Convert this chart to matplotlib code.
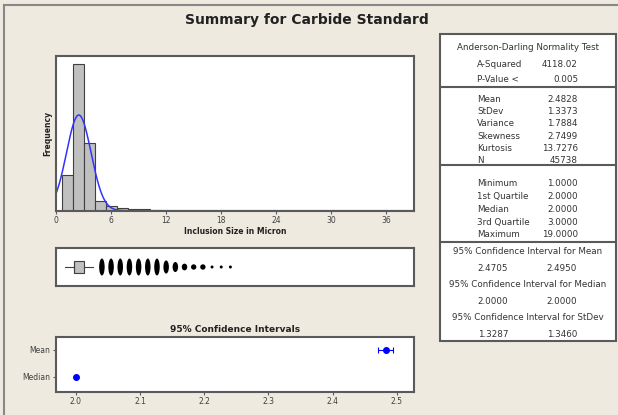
import matplotlib.pyplot as plt
import numpy as np
from matplotlib.patches import Ellipse
from matplotlib.lines import Line2D

W, H = 618, 415

# inclusion sizes (micron) and how often each was seen
size_values = np.arange(1, 20)
size_counts = [6110, 25070, 10300, 1340, 1620, 770, 430, 230, 130, 90,
               60, 20, 8, 3, 2, 2, 1, 1, 1]
bin_width = 1.2
x_ticks = [0, 6, 12, 18, 24, 30, 36]

# summary statistics
mean, stdev, n_obs = 2.4828, 1.3373, 45738
minimum, q1, median, q3, maximum = 1.0, 2.0, 2.0, 3.0, 19.0

# confidence intervals panel
ci_labels = ["Mean", "Median"]
ci_centers = [2.4828, 2.0]
ci_low = [2.4705, 2.0]
ci_high = [2.4950, 2.0]
ci_ticks = [2.0, 2.1, 2.2, 2.3, 2.4, 2.5]

# table text
ad_rows = [("A-Squared", "4118.02"), ("P-Value <", "0.005")]
moment_rows = [("Mean", "2.4828"), ("StDev", "1.3373"), ("Variance", "1.7884"),
               ("Skewness", "2.7499"), ("Kurtosis", "13.7276"), ("N", "45738")]
quant_rows = [("Minimum", "1.0000"), ("1st Quartile", "2.0000"), ("Median", "2.0000"),
              ("3rd Quartile", "3.0000"), ("Maximum", "19.0000")]
ci_rows = [("Mean", "2.4705", "2.4950"), ("Median", "2.0000", "2.0000"),
           ("StDev", "1.3287", "1.3460")]

bg = "#EEEAE0"
spine_col = "#5a5a5a"
txt_col = "#333333"
plt.rcParams['font.family'] = ['DejaVu Sans']


def fx(x):
    return x / W


def fy(y):
    return 1 - y / H


def make_axes(left, top, right, bottom):
    a = fig.add_axes([fx(left), fy(bottom), (right - left) / W, (bottom - top) / H])
    for s in a.spines.values():
        s.set_color(spine_col)
        s.set_linewidth(1.5)
    a.tick_params(labelsize=5.5, colors=spine_col, labelcolor="#404040", length=2.5, width=0.8, pad=1.5)
    return a


fig = plt.figure(figsize=(W / 100, H / 100), dpi=100, facecolor=bg)

# outer frame (top and left only)
fig.add_artist(Line2D([fx(4), 1], [fy(5), fy(5)], color="#888888", lw=1.5))
fig.add_artist(Line2D([fx(4), fx(4)], [fy(5), 0], color="#888888", lw=1.5))

fig.text(fx(307), fy(20), "Summary for Carbide Standard", ha="center", va="center",
         fontsize=10, fontweight="bold", color="#222222")

# %% histogram
ax = make_axes(56, 55.7, 414, 210.7)
edges = np.round(0.6 + bin_width * np.arange(17), 1)
ax.hist(size_values, bins=edges, weights=size_counts, facecolor="#C0C0C0",
        edgecolor="#404040", linewidth=0.8)
xs = np.linspace(0, 39, 500)
pdf = np.exp(-0.5 * ((xs - mean) / stdev) ** 2) / (stdev * np.sqrt(2 * np.pi))
ax.plot(xs, n_obs * bin_width * pdf, color="#3333FF", lw=1.1)
ax.set_xlim(0, 39)
ax.set_ylim(0, max(size_counts) * 1.058)
ax.set_xticks(x_ticks)
ax.set_yticks([])
ax.set_xlabel("Inclusion Size in Micron", fontsize=5.5, fontweight="bold", color="#222222", labelpad=1)
ax.set_ylabel("Frequency", fontsize=5.5, fontweight="bold", color="#222222", labelpad=3)

# %% boxplot
bx = make_axes(56, 248.3, 414, 285.7)
fence = q3 + 1.5 * (q3 - q1)
whishi = max(v for v in size_values if v <= fence)
stats = [dict(med=median, q1=q1, q3=q3, whislo=minimum, whishi=whishi, fliers=[])]
bx.bxp(stats, positions=[0.5], vert=False, widths=0.3, patch_artist=True, showcaps=False,
       boxprops=dict(facecolor="#C0C0C0", edgecolor="#404040", lw=0.8),
       whiskerprops=dict(color="#404040", lw=0.8),
       medianprops=dict(color="#404040", lw=0.8))
bx.set_ylim(0, 1)
bx.set_xlim(0, 39)
bx.set_xticks([])
bx.set_yticks([])
# outliers: blob height grows with how many repeats sit at that value
ax_h = 285.7 - 248.3
px_per_unit = (414 - 56) / 39
for v, c in zip(size_values, size_counts):
    if v <= fence:
        continue
    h = min(17, 3 + 3.4 * np.log(c))
    w = min(5.5, h)
    bx.add_patch(Ellipse((v, 0.5), w / px_per_unit, h / ax_h, transform=bx.get_xaxis_transform(),
                         facecolor="black", edgecolor="none"))

# %% confidence intervals
cx = make_axes(56, 337.3, 414, 391.7)
ypos = [2, 1]
for yv, c, lo, hi in zip(ypos, ci_centers, ci_low, ci_high):
    cx.errorbar(c, yv, xerr=[[c - lo], [hi - c]], fmt="o", color="#0000FF", ms=4,
                capsize=2.5, elinewidth=0.8, capthick=0.8)
cx.set_xlim(1.969, 2.527)
cx.set_ylim(0.438, 2.475)
cx.set_yticks(ypos)
cx.set_yticklabels(ci_labels)
cx.set_xticks(ci_ticks)
cx.set_xticklabels([f"{t:.1f}" for t in ci_ticks])
fig.text(fx(235), fy(329), "95% Confidence Intervals", ha="center", va="center",
         fontsize=6.5, fontweight="bold", color="#222222")

# %% statistics table
tx0, tx1 = 440, 616
fig.patches.append(plt.Rectangle((fx(tx0), fy(341)), (tx1 - tx0) / W, (341 - 34) / H,
                                 transform=fig.transFigure, facecolor="white",
                                 edgecolor=spine_col, lw=1.5))
for yl in [87.3, 165, 241.7]:
    fig.add_artist(Line2D([fx(tx0), fx(tx1)], [fy(yl), fy(yl)], color=spine_col, lw=1.5))

fs = 6.3
lab_x, val_x = 477, 578
mid = (tx0 + tx1) / 2
fig.text(fx(mid), fy(48), "Anderson-Darling Normality Test", ha="center", va="center",
         fontsize=fs, color=txt_col)


def rows(items, y0, step):
    for i, (lab, val) in enumerate(items):
        y = y0 + i * step
        fig.text(fx(lab_x), fy(y), lab, ha="left", va="center", fontsize=fs, color=txt_col)
        fig.text(fx(val_x), fy(y), val, ha="right", va="center", fontsize=fs, color=txt_col)


rows(ad_rows, 64.3, 15)
rows(moment_rows, 99.3, 12.3)
rows(quant_rows, 184, 12.7)

for i, (name, lo, hi) in enumerate(ci_rows):
    y = 251.7 + i * 33
    fig.text(fx(mid), fy(y), f"95% Confidence Interval for {name}", ha="center", va="center",
             fontsize=fs, color=txt_col)
    fig.text(fx(493), fy(y + 16.5), lo, ha="center", va="center", fontsize=fs, color=txt_col)
    fig.text(fx(562), fy(y + 16.5), hi, ha="center", va="center", fontsize=fs, color=txt_col)

fig.savefig("out.png", dpi=100, facecolor=bg)
